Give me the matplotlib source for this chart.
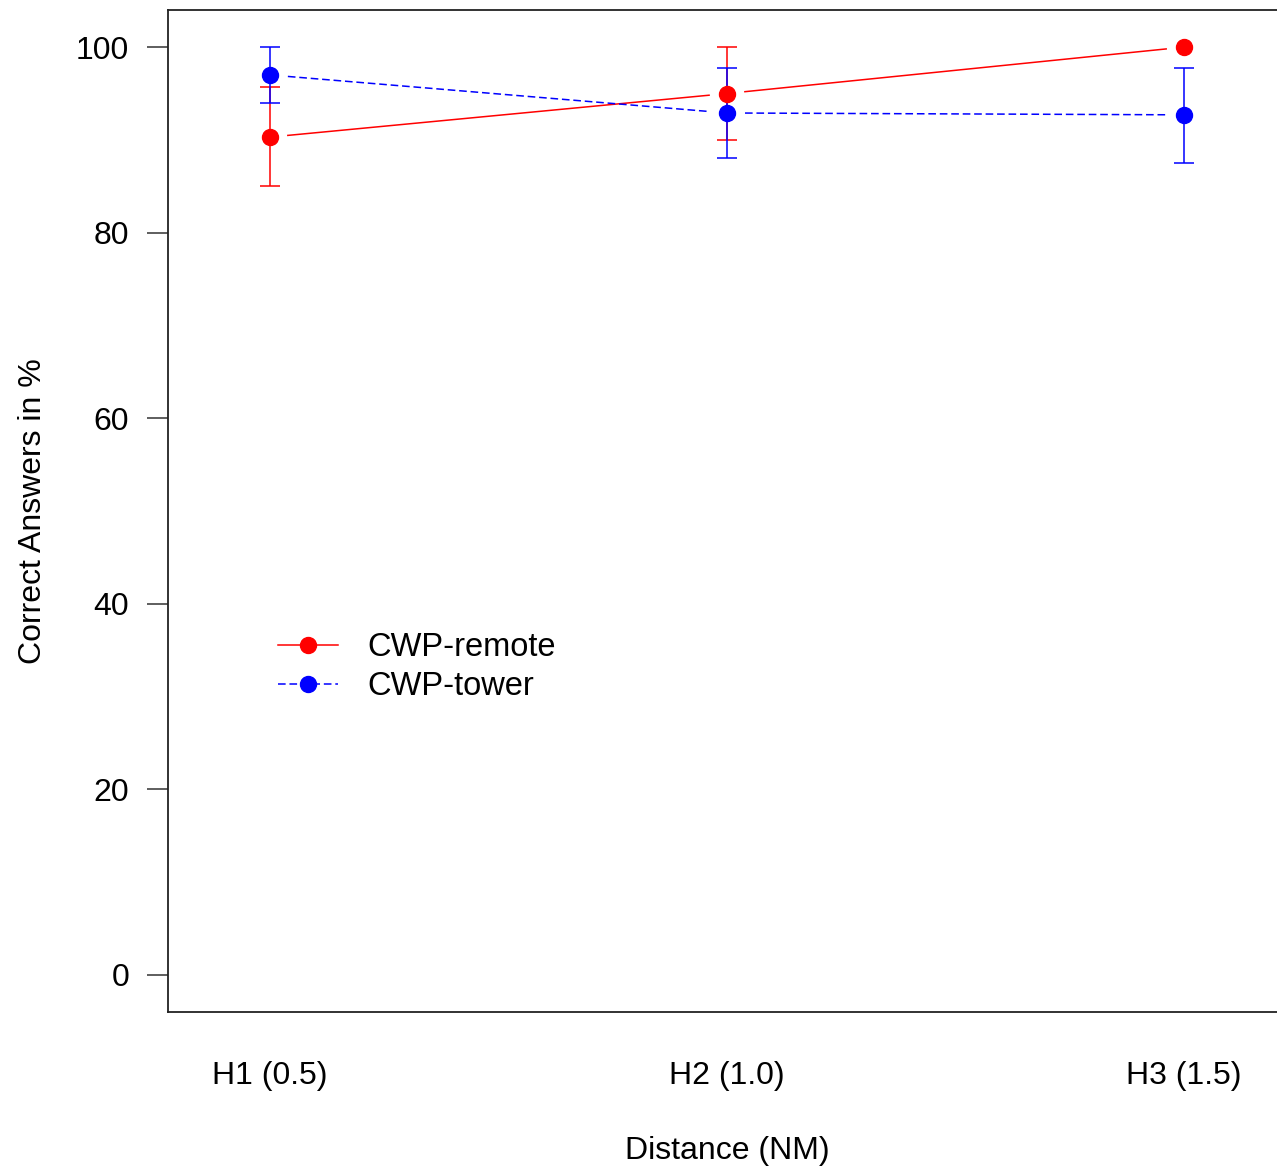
import matplotlib
matplotlib.use("Agg")
import matplotlib.pyplot as plt
import numpy as np

plt.rcParams['font.family'] = ['Liberation Sans', 'DejaVu Sans']

categories = ['H1 (0.5)', 'H2 (1.0)', 'H3 (1.5)']
remote_mean = [90.3, 95.0, 100.0]
remote_low = [85.0, 90.0, 100.0]
remote_high = [95.7, 100.0, 100.0]
tower_mean = [97.0, 92.9, 92.7]
tower_low = [94.0, 88.0, 87.5]
tower_high = [100.0, 97.8, 97.7]


def gapped_line(ax, x, y, color, ls, gap_px=18):
    # R type="b": line segments that stop short of the points
    pts = ax.transData.transform(np.column_stack([x, y]))
    inv = ax.transData.inverted()
    for p0, p1 in zip(pts[:-1], pts[1:]):
        d = p1 - p0
        n = d / np.hypot(*d)
        a = inv.transform(p0 + n * gap_px)
        b = inv.transform(p1 - n * gap_px)
        ax.plot([a[0], b[0]], [a[1], b[1]], color=color, ls=ls, lw=1.1)


fig = plt.figure(figsize=(12.77, 11.7), dpi=100)
W, H = 1277, 1170
ax = fig.add_axes([168 / W, 1 - 1012 / H, (1286 - 168) / W, (1012 - 10) / H])

x = np.arange(1, len(categories) + 1)
ax.set_xlim(0.777, 3.223)
ax.set_ylim(-4, 104)

for mean, low, high, color in [(remote_mean, remote_low, remote_high, 'red'),
                               (tower_mean, tower_low, tower_high, 'blue')]:
    mean, low, high = np.array(mean), np.array(low), np.array(high)
    keep = high > low  # zero-length bars are not drawn
    err = [mean[keep] - low[keep], high[keep] - mean[keep]]
    ax.errorbar(x[keep], mean[keep], yerr=err, fmt='none', ecolor=color,
                elinewidth=1.1, capsize=7.2, capthick=1.1)

gapped_line(ax, x, remote_mean, 'red', '-')
gapped_line(ax, x, tower_mean, 'blue', (0, (5, 2.5)))
ax.plot(x, remote_mean, 'o', color='red', ms=11.5, zorder=5)
ax.plot(x, tower_mean, 'o', color='blue', ms=11.5, zorder=5)

# legend proxies
h1, = ax.plot([], [], '-o', color='red', ms=11.5, lw=1.1, label='CWP-remote')
h2, = ax.plot([], [], 'o', ls=(0, (5, 2.5)), color='blue', ms=11.5, lw=1.1,
              label='CWP-tower')
ax.legend(handles=[h1, h2], loc='upper left', bbox_to_anchor=(0.098, 0.379),
          frameon=False, fontsize=23.5, handlelength=1.85, handletextpad=0.9,
          labelspacing=0.25, borderpad=0, borderaxespad=0)

ax.set_xticks(x)
ax.set_xticklabels(categories)
ax.set_yticks([0, 20, 40, 60, 80, 100])
ax.tick_params(axis='x', length=0, pad=35, labelsize=23)
ax.tick_params(axis='y', length=15, width=1.1, pad=13, labelsize=23,
               color='#333333')
for s in ax.spines.values():
    s.set_linewidth(1.3)
    s.set_color('#222222')

ax.set_xlabel('Distance (NM)', fontsize=23, labelpad=33)
ax.set_ylabel('Correct Answers in %', fontsize=23, labelpad=20)

fig.savefig('out.png', dpi=100)
